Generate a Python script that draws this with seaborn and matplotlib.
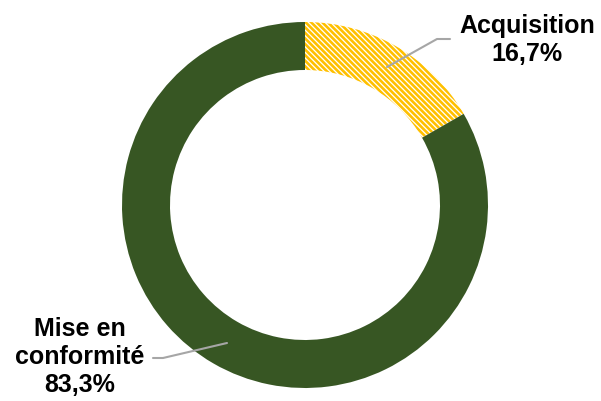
import matplotlib
matplotlib.use("Agg")
import matplotlib.pyplot as plt
import seaborn as sns

# Data
labels = ["Acquisition", "Mise en\nconformité"]
shares = [16.7, 83.3]
pct_text = ["16,7%", "83,3%"]

sns.set_theme(style="white")
plt.rcParams['font.family'] = ['Liberation Sans', 'DejaVu Sans']
plt.rcParams['hatch.linewidth'] = 1.9

fig = plt.figure(figsize=(6.01, 4.01), dpi=100)
ax = fig.add_axes([0, 0, 1, 1])

wedges, _ = ax.pie(shares, startangle=90, counterclock=False,
                   center=(305, 196), radius=183,
                   colors=["white", "#375623"],
                   wedgeprops=dict(width=48, linewidth=0))
ax.set_xlim(0, 601)
ax.set_ylim(0, 401)
ax.set_aspect('equal')
ax.axis('off')

# hatched yellow slice
wedges[0].set_hatch('\\' * 6)
wedges[0].set_edgecolor('#FFC000')
wedges[0].set_linewidth(0)

# leader lines
ax.plot([387, 437, 450], [401 - 67, 401 - 39, 401 - 39], color='#A6A6A6', lw=1.5)
ax.plot([153, 163, 227], [401 - 358, 401 - 358, 401 - 343], color='#A6A6A6', lw=1.5)

ax.text(527, 401 - 40, labels[0] + "\n" + pct_text[0], ha='center', va='center',
        fontsize=18, fontweight='bold', color='black', linespacing=1.2)
ax.text(80, 401 - 357, labels[1] + "\n" + pct_text[1], ha='center', va='center',
        fontsize=18, fontweight='bold', color='black', linespacing=1.2)

fig.savefig("out.png", dpi=100)
